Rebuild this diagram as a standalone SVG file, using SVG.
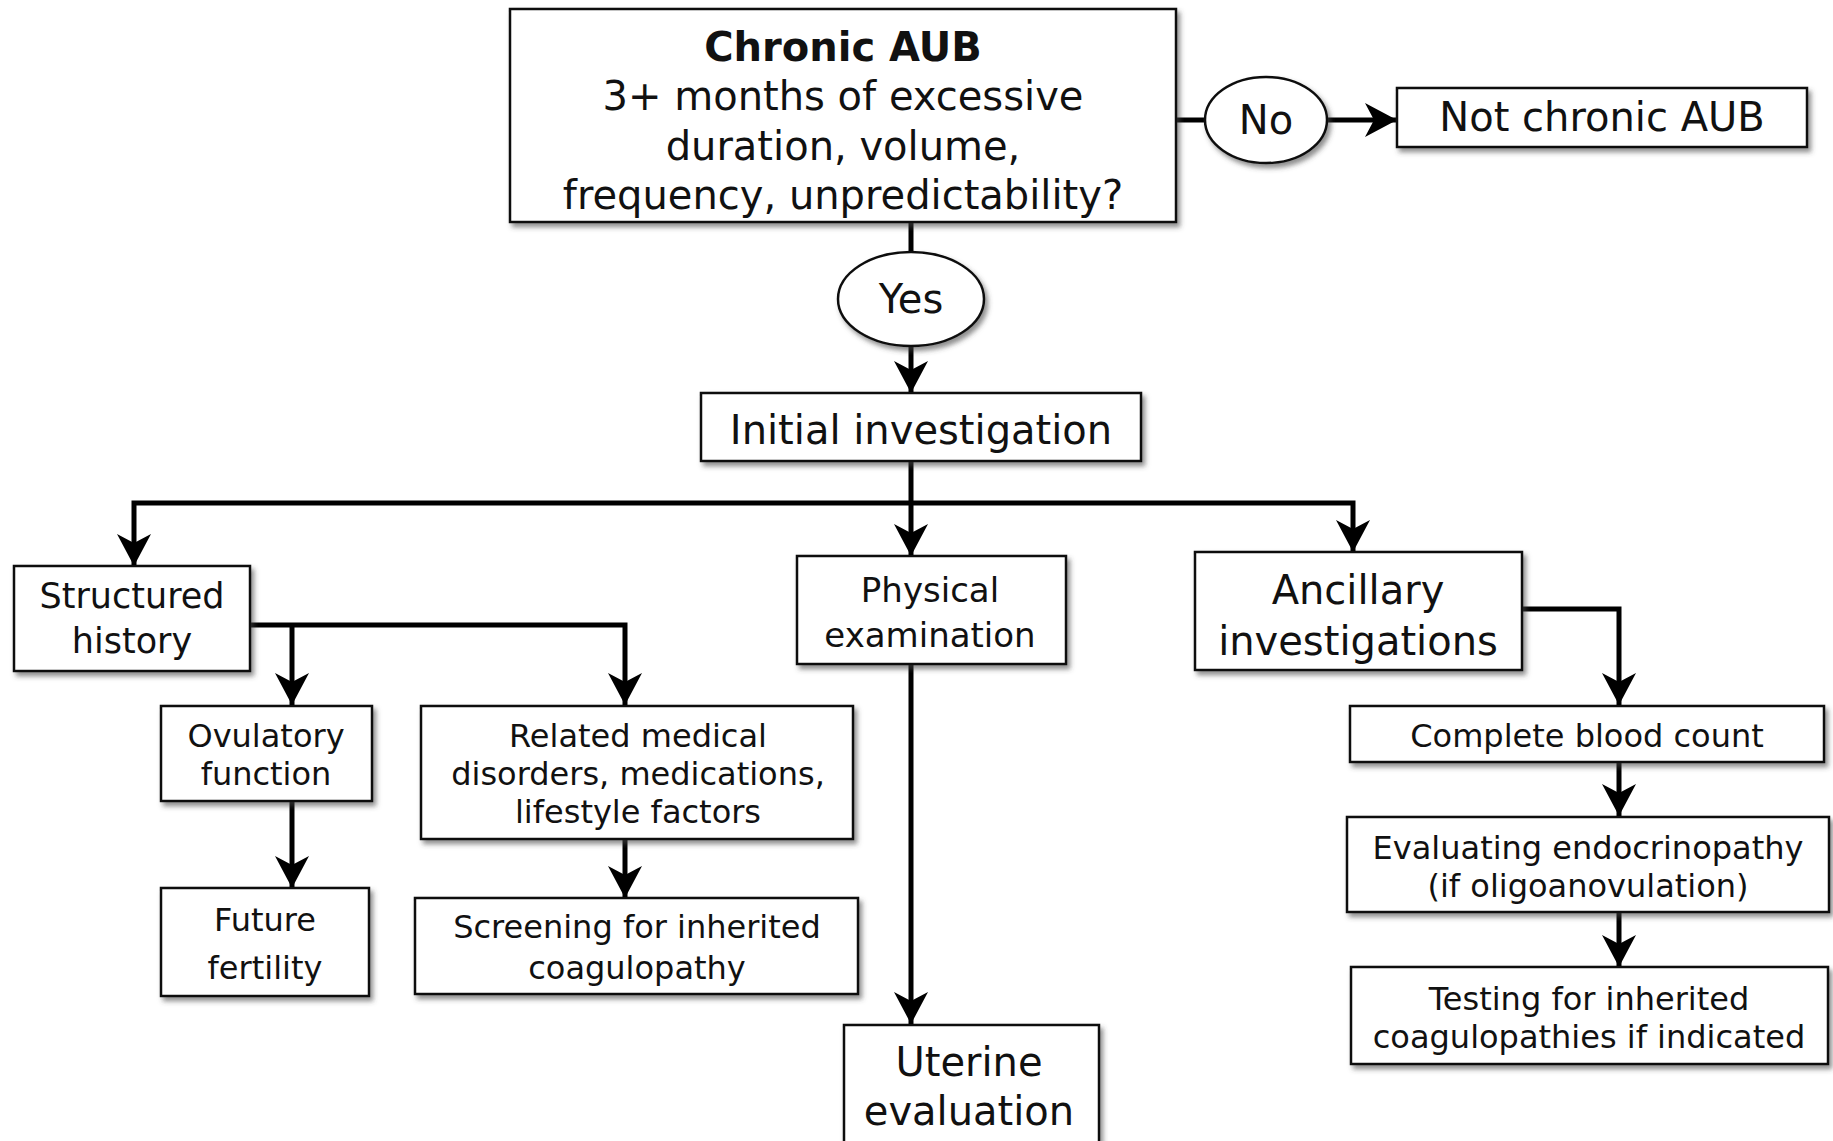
<svg xmlns="http://www.w3.org/2000/svg" width="1833" height="1141" viewBox="0 0 1833 1141">
<defs>
<filter id="sh" x="-10%" y="-10%" width="130%" height="140%">
<feDropShadow dx="3" dy="4" stdDeviation="2.5" flood-color="#444" flood-opacity="0.6"/>
</filter>
<marker id="ar" markerUnits="userSpaceOnUse" markerWidth="34" markerHeight="36" refX="32" refY="18" orient="auto" overflow="visible">
<path d="M0,1 L32,18 L0,35 L9,18 Z" fill="#000"/>
</marker>
<style>
.box{fill:#fff;stroke:#111;stroke-width:2.5;filter:url(#sh)}
.t{font-family:"DejaVu Sans",Verdana,sans-serif;fill:#111;text-anchor:middle}
.c{fill:none;stroke:#000;stroke-width:5}
.a{marker-end:url(#ar)}
</style>
</defs>
<rect width="1833" height="1141" fill="#fff"/>
<g id="connectors">
<path class="c" d="M1176,120 H1205"/>
<path class="c a" d="M1327,120 H1397"/>
<path class="c" d="M911,222 V252"/>
<path class="c a" d="M911,346 V393"/>
<path class="c a" d="M911,461 V556"/>
<path class="c a" d="M911,503 H134 V566"/>
<path class="c a" d="M911,503 H1353 V552"/>
<path class="c a" d="M250,625 H625 V705"/>
<path class="c a" d="M292,625 V705"/>
<path class="c a" d="M292,801 V888"/>
<path class="c a" d="M625,839 V898"/>
<path class="c a" d="M911,664 V1024"/>
<path class="c a" d="M1522,609 H1619 V705"/>
<path class="c a" d="M1619,762 V816"/>
<path class="c a" d="M1619,912 V967"/>
</g>
<g id="chronic">
<rect class="box" x="510" y="9" width="666" height="213"/>
<text class="t" x="843" y="61" font-size="40" font-weight="bold">Chronic AUB</text>
<text class="t" x="843" y="110" font-size="40">3+ months of excessive</text>
<text class="t" x="843" y="160" font-size="40">duration, volume,</text>
<text class="t" x="843" y="209" font-size="40">frequency, unpredictability?</text>
</g>
<g id="no">
<ellipse class="box" cx="1266" cy="120" rx="61" ry="43"/>
<text class="t" x="1266" y="134" font-size="40">No</text>
</g>
<g id="not-chronic">
<rect class="box" x="1397" y="88" width="410" height="59"/>
<text class="t" x="1602" y="131" font-size="40">Not chronic AUB</text>
</g>
<g id="yes">
<ellipse class="box" cx="911" cy="299" rx="73" ry="47"/>
<text class="t" x="911" y="313" font-size="40">Yes</text>
</g>
<g id="initial">
<rect class="box" x="701" y="393" width="440" height="68"/>
<text class="t" x="921" y="444" font-size="40">Initial investigation</text>
</g>
<g id="structured">
<rect class="box" x="14" y="566" width="236" height="105"/>
<text class="t" x="132" y="608" font-size="35">Structured</text>
<text class="t" x="132" y="653" font-size="35">history</text>
</g>
<g id="ovulatory">
<rect class="box" x="161" y="706" width="211" height="95"/>
<text class="t" x="266" y="747" font-size="32">Ovulatory</text>
<text class="t" x="266" y="785" font-size="32">function</text>
</g>
<g id="future">
<rect class="box" x="161" y="888" width="208" height="108"/>
<text class="t" x="265" y="931" font-size="32">Future</text>
<text class="t" x="265" y="979" font-size="32">fertility</text>
</g>
<g id="related">
<rect class="box" x="421" y="706" width="432" height="133"/>
<text class="t" x="638" y="747" font-size="32">Related medical</text>
<text class="t" x="638" y="785" font-size="32">disorders, medications,</text>
<text class="t" x="638" y="823" font-size="32">lifestyle factors</text>
</g>
<g id="screening">
<rect class="box" x="415" y="898" width="443" height="96"/>
<text class="t" x="637" y="938" font-size="32">Screening for inherited</text>
<text class="t" x="637" y="979" font-size="32">coagulopathy</text>
</g>
<g id="physical">
<rect class="box" x="797" y="556" width="269" height="108"/>
<text class="t" x="930" y="602" font-size="34">Physical</text>
<text class="t" x="930" y="647" font-size="34">examination</text>
</g>
<g id="uterine">
<rect class="box" x="844" y="1025" width="255" height="130"/>
<text class="t" x="969" y="1076" font-size="40">Uterine</text>
<text class="t" x="969" y="1125" font-size="40">evaluation</text>
</g>
<g id="ancillary">
<rect class="box" x="1195" y="552" width="327" height="118"/>
<text class="t" x="1358" y="604" font-size="40">Ancillary</text>
<text class="t" x="1358" y="655" font-size="40">investigations</text>
</g>
<g id="cbc">
<rect class="box" x="1350" y="706" width="474" height="56"/>
<text class="t" x="1587" y="747" font-size="32">Complete blood count</text>
</g>
<g id="endocrinopathy">
<rect class="box" x="1347" y="817" width="482" height="95"/>
<text class="t" x="1588" y="859" font-size="32">Evaluating endocrinopathy</text>
<text class="t" x="1588" y="897" font-size="32">(if oligoanovulation)</text>
</g>
<g id="testing">
<rect class="box" x="1351" y="967" width="477" height="97"/>
<text class="t" x="1589" y="1010" font-size="32">Testing for inherited</text>
<text class="t" x="1589" y="1048" font-size="32">coagulopathies if indicated</text>
</g>
</svg>
